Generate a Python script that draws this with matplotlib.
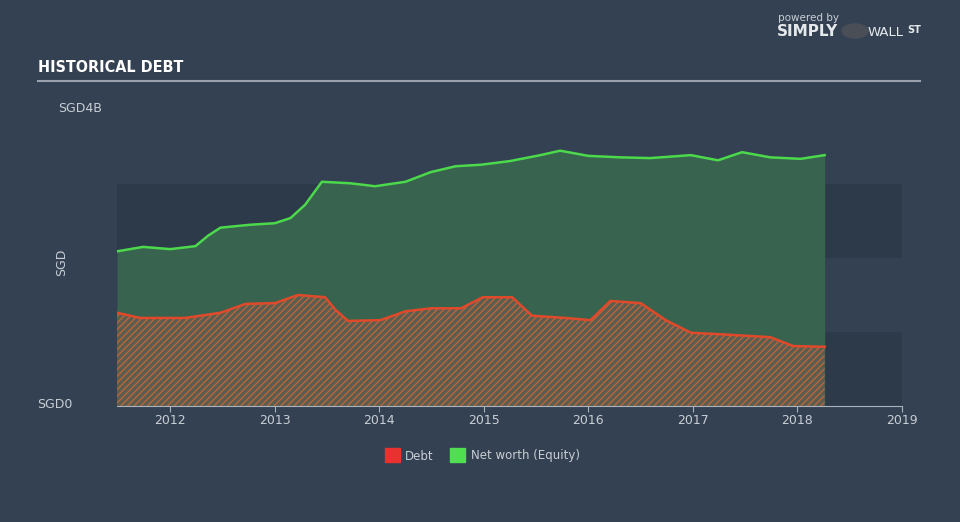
import numpy as np
import matplotlib.pyplot as plt
from matplotlib.patches import Rectangle

# values (SGD billions, decimal years)
equity_t = [2011.49, 2011.74, 2012.00, 2012.24, 2012.36, 2012.48, 2012.77, 2013.00, 2013.15,
            2013.29, 2013.45, 2013.72, 2013.96, 2014.25, 2014.49, 2014.73, 2014.97, 2015.25,
            2015.54, 2015.73, 2016.00, 2016.31, 2016.59, 2016.98, 2017.24, 2017.47, 2017.74,
            2018.03, 2018.26]
equity = [2.09, 2.15, 2.12, 2.16, 2.30, 2.41, 2.45, 2.47, 2.54,
          2.72, 3.03, 3.01, 2.97, 3.03, 3.16, 3.24, 3.26, 3.31,
          3.39, 3.45, 3.38, 3.36, 3.35, 3.39, 3.32, 3.43, 3.36,
          3.34, 3.39]

debt_t = [2011.49, 2011.71, 2012.14, 2012.48, 2012.72, 2013.00, 2013.22, 2013.48, 2013.58,
          2013.70, 2014.01, 2014.25, 2014.49, 2014.78, 2014.99, 2015.27, 2015.46, 2015.78,
          2016.02, 2016.21, 2016.50, 2016.74, 2016.98, 2017.26, 2017.50, 2017.74, 2017.96,
          2018.26]
debt = [1.26, 1.19, 1.19, 1.26, 1.38, 1.39, 1.50, 1.47, 1.30,
        1.15, 1.16, 1.28, 1.32, 1.32, 1.47, 1.47, 1.22, 1.19,
        1.16, 1.42, 1.39, 1.16, 0.99, 0.97, 0.95, 0.93, 0.81,
        0.80]

years = [2012, 2013, 2014, 2015, 2016, 2017, 2018, 2019]

bg = '#334152'
band = '#2d3a4a'
txt = '#c9ced4'

plt.rcParams['hatch.linewidth'] = 1.0
fig = plt.figure(figsize=(9.6, 5.22), dpi=100, facecolor=bg)
ax = fig.add_axes([117 / 960, 1 - 406 / 522, (902 - 117) / 960, (406 - 110) / 522])
ax.set_facecolor(bg)
ax.set_xlim(2011.49, 2019.0)
ax.set_ylim(0, 4)

ax.axhspan(0, 1, color=band, zorder=0, lw=0)
ax.axhspan(2, 3, color=band, zorder=0, lw=0)

ax.fill_between(equity_t, 0, equity, color='#37634f', lw=0, zorder=1)
ax.fill_between(debt_t, 0, debt, facecolor='#5b5d4e', edgecolor='#b9653f',
                hatch='/////', lw=0, zorder=2)
ax.plot(equity_t, equity, color='#4cd94c', lw=1.8, zorder=3, solid_joinstyle='round')
ax.plot(debt_t, debt, color='#e04a2a', lw=1.8, zorder=3, solid_joinstyle='round')

for s in ['top', 'right', 'left']:
    ax.spines[s].set_visible(False)
ax.spines['bottom'].set_color('#aab3bd')
ax.set_yticks([])
ax.set_xticks(years)
ax.set_xticklabels([str(y) for y in years])
ax.tick_params(axis='x', colors='#aab3bd', labelcolor=txt, labelsize=9, length=4, pad=2)

# y labels
fig.text(58 / 960, 1 - 108 / 522, 'SGD4B', color=txt, fontsize=9, va='center', ha='left')
fig.text(72 / 960, 1 - 405 / 522, 'SGD0', color=txt, fontsize=9, va='center', ha='right')
fig.text(62 / 960, 1 - 262 / 522, 'SGD', color=txt, fontsize=9, va='center', ha='center',
         rotation=90)

# title and rule
fig.text(38 / 960, 1 - 68 / 522, 'HISTORICAL DEBT', color='white', fontsize=11.5,
         fontweight='bold', fontstretch='condensed', va='center', ha='left')
fig.add_artist(plt.Line2D([38 / 960, 920 / 960], [1 - 81 / 522, 1 - 81 / 522],
                          color='#9aa3ad', lw=1.5))

# logo text
fig.text(778 / 960, 1 - 18 / 522, 'powered by', color='#c9ced4', fontsize=7.5,
         va='center', ha='left')
fig.text(777 / 960, 1 - 32 / 522, 'SIMPLY', color='#e6e9ec', fontsize=11,
         fontweight='bold', va='center', ha='left')
fig.text(868 / 960, 1 - 32 / 522, 'WALL', color='#e6e9ec', fontsize=9.5,
         va='center', ha='left')
fig.text(907 / 960, 1 - 30 / 522, 'ST', color='#e6e9ec', fontsize=7,
         fontweight='bold', va='center', ha='left')
fig.add_artist(plt.Circle((855 / 960, 1 - 31 / 522), 13 / 960, transform=fig.transFigure,
                          color='#4a4f57'))

# legend
fig.add_artist(Rectangle((385 / 960, 1 - 462 / 522), 15 / 960, 14 / 522,
                         transform=fig.transFigure, color='#e8322f'))
fig.text(405 / 960, 1 - 456 / 522, 'Debt', color=txt, fontsize=8.5, va='center', ha='left')
fig.add_artist(Rectangle((450 / 960, 1 - 462 / 522), 15 / 960, 14 / 522,
                         transform=fig.transFigure, color='#4ee04e'))
fig.text(471 / 960, 1 - 456 / 522, 'Net worth (Equity)', color=txt, fontsize=8.5,
         va='center', ha='left')

fig.savefig('out.png', dpi=100, facecolor=bg)
